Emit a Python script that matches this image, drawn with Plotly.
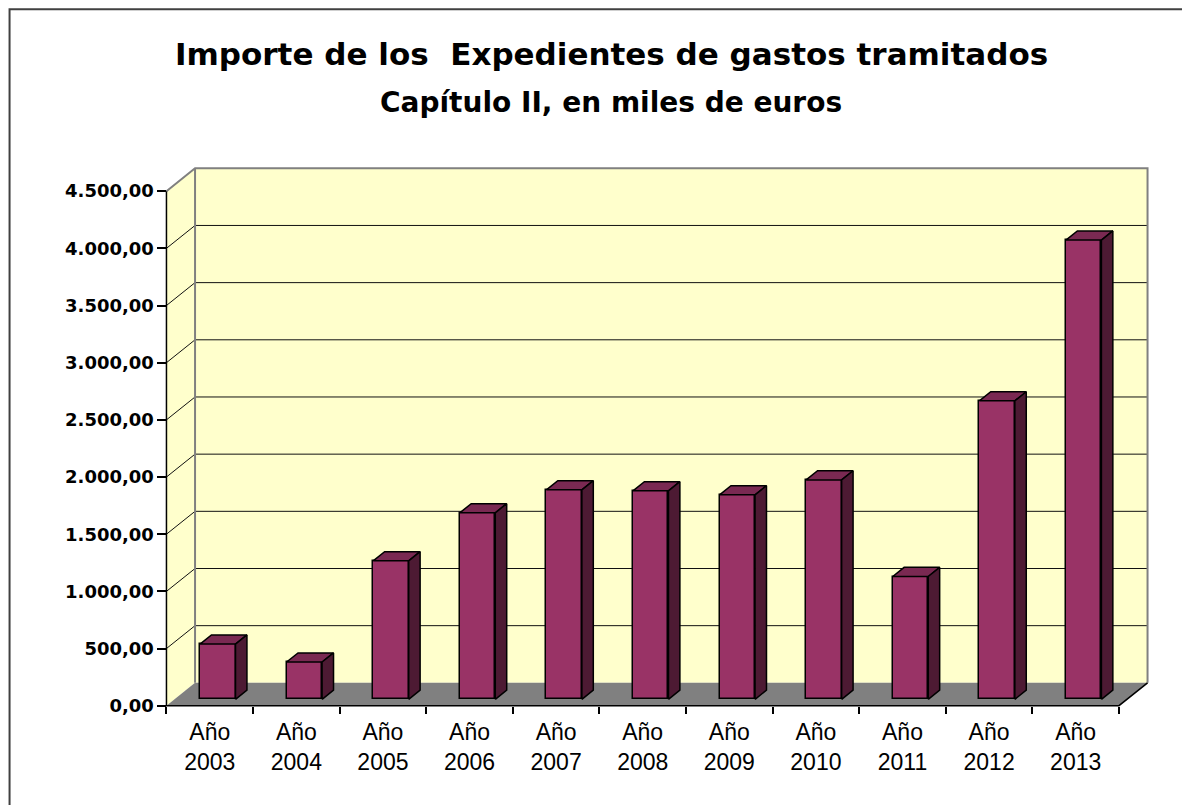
import plotly.graph_objects as go

# data (miles de euros)
years = ["2003", "2004", "2005", "2006", "2007", "2008", "2009", "2010", "2011", "2012", "2013"]
categories = [f"Año<br>{y}" for y in years]
importes = [483, 326, 1211, 1631, 1832, 1823, 1788, 1919, 1074, 2610, 4016]
y_ticks = [0, 500, 1000, 1500, 2000, 2500, 3000, 3500, 4000, 4500]

title_1 = "Importe de los \u00a0Expedientes de gastos tramitados"
title_2 = "Capítulo II, en miles de euros"

# fake 3d geometry
N = len(importes)
Y_MAX = y_ticks[-1]
DEPTH_X = 0.33      # floor depth, category units
DEPTH_Y = 200       # floor depth, value units
BAR_W = 0.41
BAR_FRONT = 0.28    # where the bar front face sits inside the depth
BAR_DEPTH = 0.40

WALL = "#FFFFCC"
FLOOR = "#808080"
EDGE = "#808080"
FRONT = "#993366"
TOP = "#7A2952"
SIDE = "#4D1A33"

# the page body has an 8px margin, so the figure starts at (8, 8)
PAGE_OFF = 8
FIG_W, FIG_H = 1190 - PAGE_OFF, 805 - PAGE_OFF
ORIGIN_X, ORIGIN_Y = 166 - PAGE_OFF, 706 - PAGE_OFF
PX_X = 86.64
PX_Y = 0.11444

X0, X1 = -0.04, N + DEPTH_X + 0.04
Y0, Y1 = -20, Y_MAX + DEPTH_Y + 20

m_l = ORIGIN_X + X0 * PX_X
plot_w = (X1 - X0) * PX_X
m_r = FIG_W - m_l - plot_w
m_b = FIG_H - (ORIGIN_Y - Y0 * PX_Y)
plot_h = (Y1 - Y0) * PX_Y
m_t = FIG_H - m_b - plot_h


def paper_x(px):
    return (px - PAGE_OFF - m_l) / plot_w


def paper_y(py):
    return (FIG_H - m_b - (py - PAGE_OFF)) / plot_h


def path(points):
    return "M " + " L ".join(f"{x},{y}" for x, y in points) + " Z"


def open_path(points):
    return "M " + " L ".join(f"{x},{y}" for x, y in points)


shapes = []
# side wall, back wall, floor
shapes.append(dict(type="path", xref="x", yref="y", layer="below", fillcolor=WALL, line=dict(width=0),
                   path=path([(0, 0), (DEPTH_X, DEPTH_Y), (DEPTH_X, Y_MAX + DEPTH_Y), (0, Y_MAX)])))
shapes.append(dict(type="path", xref="x", yref="y", layer="below", fillcolor=WALL, line=dict(width=0),
                   path=path([(DEPTH_X, DEPTH_Y), (N + DEPTH_X, DEPTH_Y), (N + DEPTH_X, Y_MAX + DEPTH_Y), (DEPTH_X, Y_MAX + DEPTH_Y)])))
shapes.append(dict(type="path", xref="x", yref="y", layer="below", fillcolor=FLOOR, line=dict(width=0),
                   path=path([(0, 0), (N, 0), (N + DEPTH_X, DEPTH_Y), (DEPTH_X, DEPTH_Y)])))

# gridlines on walls
for t in y_ticks[1:-1]:
    shapes.append(dict(type="path", xref="x", yref="y", layer="below", line=dict(color="#111111", width=1),
                       path=open_path([(0, t), (DEPTH_X, t + DEPTH_Y), (N + DEPTH_X, t + DEPTH_Y)])))

# wall edges
shapes.append(dict(type="path", xref="x", yref="y", layer="below", line=dict(color=EDGE, width=2),
                   path=open_path([(0, Y_MAX), (DEPTH_X, Y_MAX + DEPTH_Y), (N + DEPTH_X, Y_MAX + DEPTH_Y), (N + DEPTH_X, DEPTH_Y)])))
shapes.append(dict(type="path", xref="x", yref="y", layer="below", line=dict(color=EDGE, width=2),
                   path=open_path([(DEPTH_X, DEPTH_Y), (DEPTH_X, Y_MAX + DEPTH_Y)])))

# front axis + floor front edge
shapes.append(dict(type="path", xref="x", yref="y", layer="below", line=dict(color="black", width=1.5),
                   path=open_path([(0, Y_MAX), (0, 0), (N, 0), (N + DEPTH_X, DEPTH_Y)])))

# outer frame (right and bottom sides fall off the page)
shapes.append(dict(type="rect", xref="paper", yref="paper", x0=paper_x(PAGE_OFF + 1), x1=paper_x(1200),
                   y0=paper_y(815), y1=paper_y(PAGE_OFF + 1), line=dict(color="#404040", width=2)))

fig = go.Figure()

centers = [i + 0.5 for i in range(N)]
x_front = [c + BAR_FRONT * DEPTH_X for c in centers]
base = BAR_FRONT * DEPTH_Y

fig.add_trace(go.Bar(
    x=x_front, y=importes, base=base, width=BAR_W,
    marker=dict(color=FRONT, line=dict(color="black", width=1.5)),
    hoverinfo="skip", showlegend=False,
))

dx = BAR_DEPTH * DEPTH_X
dy = BAR_DEPTH * DEPTH_Y
top_x, top_y, side_x, side_y = [], [], [], []
for xf, v in zip(x_front, importes):
    xl = xf - BAR_W / 2
    xr = xf + BAR_W / 2
    yb = base
    yt = base + v
    top_x += [xl, xr, xr + dx, xl + dx, xl, None]
    top_y += [yt, yt, yt + dy, yt + dy, yt, None]
    side_x += [xr, xr + dx, xr + dx, xr, xr, None]
    side_y += [yb, yb + dy, yt + dy, yt, yb, None]

fig.add_trace(go.Scatter(x=top_x, y=top_y, mode="lines", fill="toself", fillcolor=TOP,
                         line=dict(color="black", width=1.5), hoverinfo="skip", showlegend=False))
fig.add_trace(go.Scatter(x=side_x, y=side_y, mode="lines", fill="toself", fillcolor=SIDE,
                         line=dict(color="black", width=1.5), hoverinfo="skip", showlegend=False))

annotations = [
    dict(text=title_1, xref="paper", yref="paper", x=paper_x(611), y=paper_y(54), showarrow=False,
         xanchor="center", yanchor="middle", font=dict(family="DejaVu Sans", size=31, color="black", weight="bold")),
    dict(text=title_2, xref="paper", yref="paper", x=paper_x(611), y=paper_y(102), showarrow=False,
         xanchor="center", yanchor="middle", font=dict(family="DejaVu Sans", size=28, color="black", weight="bold")),
]

fig.update_layout(
    width=FIG_W, height=FIG_H,
    margin=dict(l=m_l, r=m_r, t=m_t, b=m_b, pad=0),
    paper_bgcolor="white", plot_bgcolor="white",
    separators=",.",
    bargap=0,
    shapes=shapes,
    annotations=annotations,
    showlegend=False,
    xaxis=dict(
        range=[X0, X1], anchor="free", position=(0 - Y0) / (Y1 - Y0),
        showgrid=False, zeroline=False, showline=False,
        tickmode="array", tickvals=centers, ticktext=categories, ticks="",
        tickfont=dict(family="Liberation Sans", size=23, color="black"),
        ticklabelstandoff=10,
        minor=dict(tickmode="array", tickvals=list(range(N + 1)), ticks="outside",
                   ticklen=7, tickwidth=1.5, tickcolor="black", showgrid=False),
    ),
    yaxis=dict(
        range=[Y0, Y1], anchor="free", position=(0 - X0) / (X1 - X0),
        showgrid=False, zeroline=False, showline=False,
        tickmode="array", tickvals=y_ticks, tickformat=",.2f",
        ticks="outside", ticklen=9, tickwidth=1.5, tickcolor="black",
        tickfont=dict(family="DejaVu Sans", size=18, color="black", weight="bold"),
    ),
)

fig.write_html("out.html")
